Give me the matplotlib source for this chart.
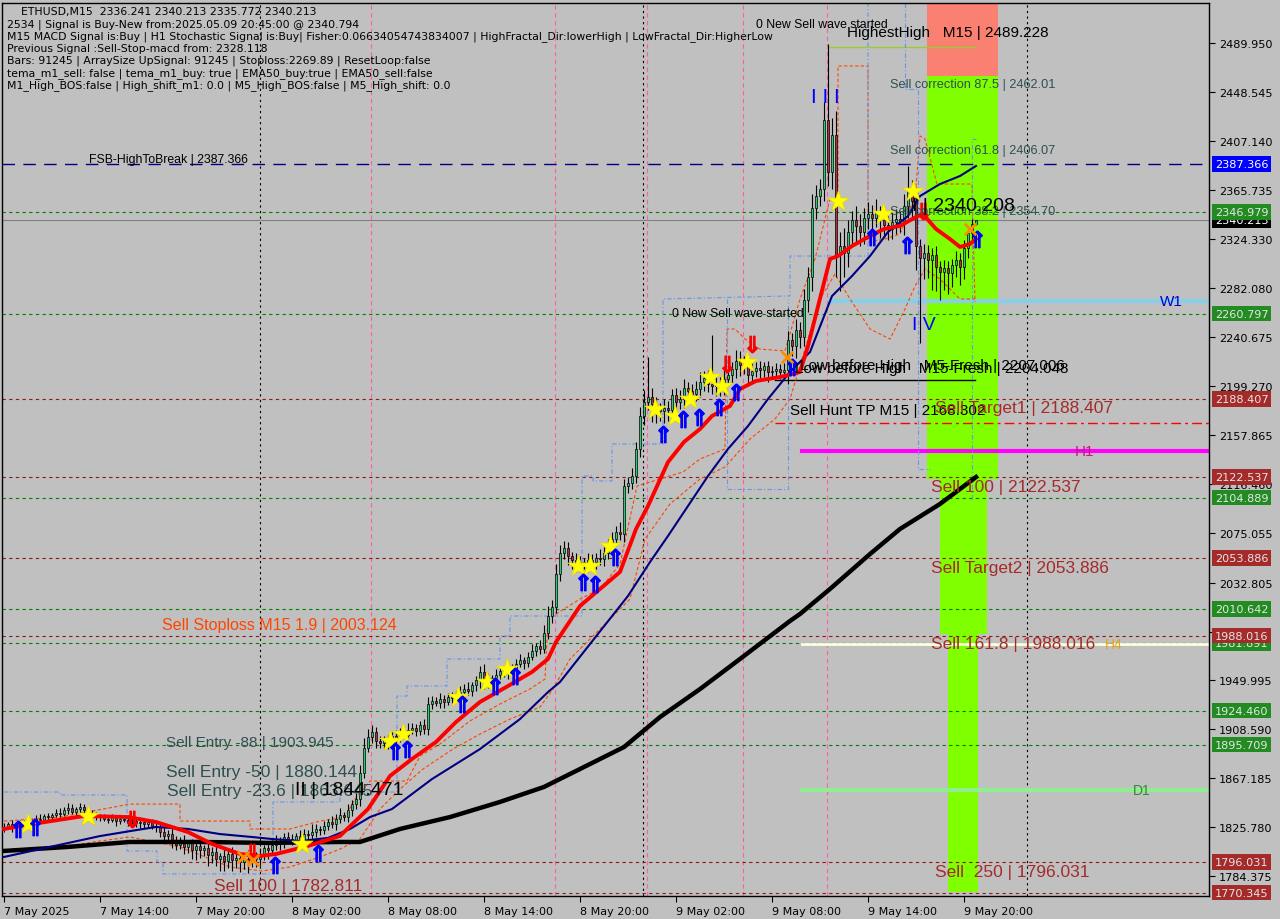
import matplotlib
matplotlib.use('Agg')
import matplotlib.pyplot as plt
import matplotlib.transforms as mtransforms
from matplotlib.patches import Rectangle

# ---------------- data ----------------
first_open = 1825.0
closes = [
    1826, 1828, 1825, 1827, 1829, 1830, 1828, 1831,
    1833, 1832, 1835, 1834, 1836, 1838, 1837, 1840,
    1842, 1839, 1841, 1843, 1840, 1838, 1836, 1835,
    1834, 1833, 1832, 1834, 1831, 1833, 1832, 1830,
    1831, 1829, 1830, 1828, 1830, 1827, 1826, 1822,
    1818, 1820, 1815, 1811, 1813, 1809, 1812, 1806,
    1810, 1806, 1808, 1802, 1805, 1799, 1801, 1797,
    1803, 1798, 1800, 1796, 1799, 1797, 1801, 1799,
    1803, 1808, 1806, 1811, 1814, 1812, 1817, 1816,
    1815, 1818, 1816, 1820, 1819, 1822, 1824, 1823,
    1827, 1830, 1828, 1833, 1836, 1834, 1840, 1845,
    1850, 1872, 1893, 1902, 1906, 1899, 1897, 1900,
    1898, 1903, 1901, 1906, 1904, 1908, 1910, 1907,
    1912, 1909, 1930, 1933, 1931, 1934, 1932, 1936,
    1935, 1938, 1940, 1943, 1941, 1946, 1950, 1957,
    1948, 1952, 1950, 1955, 1958, 1956, 1960, 1959,
    1964, 1967, 1965, 1970, 1975, 1979, 1977, 1990,
    2005, 2012, 2040, 2058, 2062, 2055, 2052, 2048,
    2050, 2049, 2052, 2050, 2054, 2053, 2058, 2064,
    2070, 2076, 2074, 2115, 2117, 2123, 2146, 2174,
    2186, 2190, 2184, 2180, 2178, 2181, 2179, 2192,
    2186, 2188, 2198, 2195, 2193, 2197, 2203, 2206,
    2201, 2199, 2202, 2198, 2205, 2209, 2214, 2221,
    2217, 2219, 2209, 2212, 2215, 2213, 2216, 2211,
    2212, 2214, 2211, 2213, 2238, 2233, 2247, 2241,
    2272, 2292, 2350, 2360, 2366, 2425, 2381, 2412,
    2310, 2318, 2312, 2330, 2340, 2335, 2330, 2342,
    2345, 2342, 2346, 2340, 2336, 2332, 2338, 2341,
    2339, 2352, 2366, 2356, 2318, 2308, 2312, 2306,
    2310, 2300, 2296, 2299, 2295, 2302, 2306, 2300,
    2316, 2329, 2336.241, 2340.213,
]
wick_up = [
    3, 2, 4, 2, 3, 2, 3, 2,  3, 4, 2, 3, 2, 3, 4, 3,  4, 3, 2, 3, 2, 3, 2, 3,
    2, 3, 2, 3, 2, 2, 3, 4,  3, 2, 4, 3, 2, 3, 2, 3,  4, 3, 5, 3, 4, 6, 3, 4,
    5, 4, 3, 6, 4, 5, 3, 6,  4, 6, 3, 5, 4, 7, 3, 4,  5, 3, 6, 4, 5, 3, 4, 5,
    4, 3, 5, 4, 3, 6, 4, 3,  4, 3, 5, 4, 6, 3, 5, 4,  5, 6, 8, 7, 6, 5, 4, 3,
    4, 3, 5, 4, 3, 6, 4, 3,  4, 5, 6, 4, 3, 5, 4, 3,  4, 3, 5, 4, 6, 3, 4, 5,
    7, 4, 3, 5, 4, 3, 5, 4,  4, 5, 3, 4, 6, 3, 5, 7,  8, 6, 9, 7, 6, 5, 4, 6,
    5, 4, 6, 5, 4, 7, 5, 6,  6, 5, 8, 6, 5, 7, 6, 8,  10, 34, 8, 6, 5, 7, 6, 5,
    6, 8, 7, 5, 6, 7, 8, 6,  7, 42, 6, 5, 8, 7, 6, 9,  8, 6, 5, 7, 5, 6, 4, 5,
    4, 5, 4, 6, 8, 6, 9, 7,  10, 8, 12, 10, 9, 15, 64, 14,  20, 12, 15, 10, 8, 12, 10, 8,
    10, 8, 12, 6, 8, 7, 9, 8,  7, 10, 20, 8, 12, 6, 8, 7,  6, 8, 5, 7, 6, 5, 8, 6,
    7, 6, 5, 0,
]
wick_dn = [
    3, 2, 3, 4, 2, 3, 2, 3,  2, 3, 2, 4, 3, 2, 3, 2,  3, 2, 4, 3, 2, 3, 4, 3,
    3, 2, 3, 2, 4, 3, 2, 3,  2, 3, 4, 3, 2, 3, 4, 5,  6, 4, 7, 5, 4, 6, 5, 7,
    8, 6, 5, 9, 7, 6, 10, 8,  6, 9, 7, 8, 6, 10, 5, 7,  6, 5, 7, 4, 5, 6, 4, 3,
    4, 3, 5, 3, 4, 3, 5, 4,  3, 4, 3, 5, 4, 3, 4, 5,  4, 6, 5, 4, 5, 6, 4, 5,
    6, 4, 5, 3, 4, 5, 3, 4,  3, 4, 5, 4, 3, 4, 5, 3,  4, 3, 5, 4, 3, 4, 5, 6,
    5, 4, 3, 5, 4, 3, 5, 4,  4, 3, 5, 4, 3, 4, 5, 4,  5, 6, 5, 6, 5, 7, 8, 6,
    6, 5, 7, 4, 6, 5, 6, 5,  5, 6, 5, 7, 6, 5, 6, 7,  8, 7, 15, 12, 8, 10, 9, 7,
    8, 6, 7, 9, 8, 6, 7, 8,  7, 6, 8, 7, 6, 5, 7, 8,  9, 7, 8, 6, 5, 7, 6, 8,
    5, 4, 6, 5, 12, 8, 10, 9,  8, 10, 12, 9, 8, 10, 12, 15,  18, 30, 20, 12, 10, 15, 12, 10,
    10, 12, 8, 15, 10, 9, 8, 10,  9, 12, 10, 14, 20, 72, 18, 15,  25, 20, 24, 15, 18, 12, 10, 15,
    10, 8, 6, 0.5,
]

red_x = [0, 7, 20, 31, 38, 46, 52, 59, 64, 68, 76, 84, 91, 96.5, 102, 108, 113, 119, 126,
         132, 136, 138, 144, 154, 158, 161, 166, 170, 174, 177, 181.5, 184, 188, 194, 199,
         201, 206.5, 208.5, 212, 216.5, 220, 224, 228, 229.75, 233, 236.5, 239, 241.5, 243]
red_y = [1824.2, 1828.4, 1835.2, 1834.3, 1830.1, 1821.6, 1811.5, 1803.0, 1801.3, 1803.0,
         1809.8, 1818.3, 1841.1, 1869.1, 1883.5, 1897.9, 1914.8, 1931.8, 1945.3, 1957.2,
         1968.2, 1982.6, 2013.1, 2041.9, 2078.3, 2097.8, 2135.0, 2152.0, 2163.0, 2174.0,
         2182.5, 2196.9, 2203.7, 2207.0, 2211.3, 2233.3, 2307.0, 2309.5, 2318.0, 2326.5,
         2332.4, 2335.0, 2342.6, 2345.0, 2332.4, 2323.9, 2317.2, 2319.7, 2323.9]

blue_x = [0, 11.5, 24, 31.5, 38, 46, 54, 62, 67, 74, 81, 86.5, 91.5, 97, 107, 119, 129,
          136, 139, 156, 161.5, 166, 171, 176, 181, 186, 191, 196.5, 201.5, 207, 212,
          216.5, 221, 226, 229, 234, 239, 243]
blue_y = [1800.5, 1809.0, 1818.2, 1822.4, 1825.9, 1824.2, 1819.9, 1817.4, 1815.7, 1814.0,
          1816.6, 1824.2, 1834.3, 1841.1, 1866.5, 1891.9, 1917.3, 1940.2, 1948.7, 2021.6,
          2050.3, 2072.4, 2097.8, 2123.2, 2146.1, 2165.5, 2188.4, 2211.3, 2228.2, 2275.6,
          2292.6, 2309.5, 2329.9, 2343.4, 2360.3, 2370.5, 2377.3, 2385.8]

black_x = [0, 16, 31.5, 49, 66, 84, 89, 99, 111.5, 124, 135, 144, 155, 164, 174, 184,
           196.5, 199, 206.5, 216.5, 224, 234, 243]
black_y = [1805.6, 1809.0, 1813.2, 1813.2, 1812.4, 1813.2, 1813.2, 1824.2, 1834.3, 1847.1,
           1859.8, 1875.0, 1893.6, 1919.0, 1942.7, 1968.2, 2000.4, 2006.3, 2027.5, 2057.1,
           2078.3, 2099.5, 2122.3]

# orange envelope (upper / lower) and light blue trailing steps
orange_up_x = [0, 14, 31.5, 44, 44, 61.5, 61.5, 71.5, 79, 85.25, 87.75, 91.5, 100.75, 104,
               109, 116.5, 124, 131.5, 135.25, 136, 144, 149, 154, 158.25, 169.75, 174,
               180.25, 180.75, 182.75, 185.25, 189, 195.25, 199, 202.75, 206.5, 208.5,
               208.5, 216, 216, 220.25, 224, 227.75, 229, 230.25, 233.25, 242, 242.75]
orange_up_y = [1830.9, 1834.3, 1845.3, 1845.3, 1830.9, 1830.9, 1824.2, 1824.2, 1830.9,
               1834.3, 1849.6, 1864.8, 1864.8, 1886.0, 1896.2, 1915.7, 1930.1, 1942.8,
               1951.2, 2002.0, 2019.0, 2027.5, 2048.6, 2114.7, 2126.6, 2137.6, 2146.1,
               2247.7, 2247.7, 2239.2, 2230.7, 2229.1, 2273.1, 2307.0, 2357.8, 2357.8,
               2470.5, 2470.5, 2321.4, 2323.9, 2328.2, 2357.8, 2411.2, 2408.6, 2370.5,
               2370.5, 2270.6]
orange_dn_x = [0, 14, 24, 31.5, 44, 56.5, 64.5, 71.5, 79, 84, 89, 94, 99, 104.75, 112.25,
               119, 126.5, 134, 137.25, 141.5, 146.5, 151.5, 156.5, 160.25, 166.5, 174,
               180.25, 186.5, 192.75, 196.5, 200.25, 204, 207.75, 211.5, 216.5, 221.5,
               225.25, 227.75, 230.25, 234, 239, 242.75]
orange_dn_y = [1805.6, 1809.0, 1814.0, 1817.4, 1809.0, 1792.0, 1788.6, 1792.0, 1800.5,
               1807.2, 1815.7, 1841.1, 1858.0, 1875.0, 1891.9, 1904.6, 1917.3, 1927.5,
               1942.7, 1968.2, 1985.1, 2002.0, 2019.0, 2069.8, 2099.5, 2120.6, 2130.8,
               2154.5, 2171.5, 2188.4, 2230.7, 2273.1, 2294.3, 2273.1, 2247.7, 2239.2,
               2264.6, 2284.1, 2298.5, 2290.0, 2273.1, 2273.1]

trail1_x = [0, 14, 14, 30.75, 30.75, 38.25, 38.25, 39.75, 39.75, 67.25, 67.25, 84, 84,
            98.25, 98.25, 100.75, 100.75, 110.75, 110.75, 124, 124, 126.5, 126.5, 144.5,
            144.5, 147.25, 147.25, 152, 152, 164.75, 164.75, 196.5, 196.5, 216, 216]
trail1_y = [1855.5, 1855.5, 1853.0, 1853.0, 1805.6, 1805.6, 1796.3, 1796.3, 1786.1, 1786.1,
            1847.1, 1847.1, 1855.5, 1855.5, 1936.8, 1936.8, 1945.3, 1945.3, 1968.2, 1968.2,
            1987.6, 1987.6, 2004.6, 2004.6, 2123.2, 2123.2, 2119.0, 2119.0, 2150.3, 2150.3,
            2273.1, 2275.7, 2309.5, 2309.5, 2523.8]
trail2_x = [180.75, 180.75, 196, 196]
trail2_y = [2273.1, 2112.2, 2112.2, 2273.1]
trail3_x = [225.25, 225.25, 228.5, 228.5, 231.5]
trail3_y = [2523.8, 2451.0, 2451.0, 2129.1, 2129.1]
trail4_x = [242, 242, 243]
trail4_y = [2103.7, 2408.6, 2408.6]

# signal markers (bar, price)
star_x = [6, 21, 74.5, 96.5, 99.75, 113.5, 120.75, 125.75, 143.5, 146.5, 151.5, 162.75,
          167.75, 171.5, 176.5, 179.5, 185.75, 208.5, 219.75, 227.25]
star_y = [1828, 1835, 1811.5, 1898.7, 1904.6, 1936.0, 1948.7, 1959.7, 2046.9, 2046.9,
          2063.9, 2179.9, 2174.0, 2188.4, 2207.0, 2199.4, 2219.7, 2356.1, 2345.1, 2364.6]
up_x = [3.5, 7.75, 67.75, 78.5, 97.75, 100.75, 114.5, 122.75, 127.75, 144.75, 147.75,
        152.75, 164.75, 169.75, 173.75, 178.75, 183, 197, 217, 225.75, 243.25]
up_y = [1824.2, 1825.9, 1793.7, 1803.9, 1890.2, 1891.9, 1930.0, 1945.3, 1953.8, 2033.4,
        2031.7, 2054.6, 2158.8, 2171.5, 2173.2, 2181.6, 2194.3, 2215.5, 2325.6, 2318.9, 2323.9]
down_x = [32, 62, 180.75, 187, 229.75]
down_y = [1832.6, 1804.7, 2218.0, 2235.0, 2347.7]
cross_x = [59.75, 62.25, 195.75, 241.5]
cross_y = [1800.5, 1797.9, 2224.0, 2332.4]

# price levels with right-hand boxes
green_levels = [2346.979, 2260.797, 2104.889, 2010.642, 1981.891, 1924.460, 1895.709]
red_levels = [2188.407, 2122.537, 2053.886, 1988.016, 1796.031, 1770.345]
fsb_level = 2387.366
last_price = 2340.213

price_ticks = [2489.950, 2448.545, 2407.140, 2365.735, 2324.330, 2282.080, 2240.675,
               2199.270, 2157.865, 2116.460, 2075.055, 2032.805, 1991.400, 1949.995,
               1908.590, 1867.185, 1825.780, 1784.375]
time_ticks = [0, 24, 48, 72, 96, 120, 144, 168, 192, 216, 240]
time_labels = ['7 May 2025', '7 May 14:00', '7 May 20:00', '8 May 02:00', '8 May 08:00',
               '8 May 14:00', '8 May 20:00', '9 May 02:00', '9 May 08:00', '9 May 14:00',
               '9 May 20:00']
black_vlines = [64, 159.75, 255.75]
pink_vlines = [91.75, 137.75, 160.75, 184.75, 205.75]

# target zones: (left bar, right bar, bottom price, top price)
zone_sell_top = (230.75, 248.5, 2462.0, 2523.8)
zone_green = [(230.75, 248.5, 2120.6, 2462.0),
              (234.0, 245.75, 1989.1, 2120.6),
              (236.0, 243.5, 1770.8, 1989.1)]

# timeframe high/low lines: (start bar, price)
h1_line = (199.5, 2144.4)
w1_line = (206.5, 2271.4)
h4_line = (199.5, 1980.9)
d1_line = (199.5, 1857.2)

header = [
    '    ETHUSD,M15  2336.241 2340.213 2335.772 2340.213',
    '2534 | Signal is Buy-New from:2025.05.09 20:45:00 @ 2340.794',
    'M15 MACD Signal is:Buy | H1 Stochastic Signal is:Buy| Fisher:0.06634054743834007 | '
    'HighFractal_Dir:lowerHigh | LowFractal_Dir:HigherLow',
    'Previous Signal :Sell-Stop-macd from: 2328.118',
    'Bars: 91245 | ArraySize UpSignal: 91245 | Stoploss:2269.89 | ResetLoop:false',
    'tema_m1_sell: false | tema_m1_buy: true | EMA50_buy:true | EMA50_sell:false',
    'M1_High_BOS:false | High_shift_m1: 0.0 | M5_High_BOS:false | M5_High_shift: 0.0',
]

# ---------------- figure ----------------
BG = '#C0C0C0'
NARROW = ['Liberation Sans Narrow', 'Liberation Sans', 'DejaVu Sans']
ARIAL = ['Liberation Sans', 'DejaVu Sans']

fig = plt.figure(figsize=(12.8, 9.2), dpi=100, facecolor=BG)
ax = fig.add_axes([2 / 1280, 1 - 897 / 920, 1207 / 1280, 893 / 920])
ax.set_facecolor(BG)
ax.set_xlim(-0.5, 301.25)
ax.set_ylim(1767.43, 2523.83)
for sp in ax.spines.values():
    sp.set_color('black')
    sp.set_linewidth(1)

# zones
l, r, b, t = zone_sell_top
ax.add_patch(Rectangle((l, b), r - l, t - b, facecolor='#FA8072', edgecolor='none', zorder=0.5))
for l, r, b, t in zone_green:
    ax.add_patch(Rectangle((l, b), r - l, t - b, facecolor='#7FFF00', edgecolor='none', zorder=0.5))

# vertical separators
for v in black_vlines:
    ax.axvline(v, color='black', lw=0.8, ls=(0, (2, 3)), zorder=1)
for v in pink_vlines:
    ax.axvline(v, color='#FF5FA0', lw=0.8, ls=(0, (4, 3)), zorder=1)

# horizontal levels
for p in green_levels:
    ax.axhline(p, color='#008000', lw=0.8, ls=(0, (3, 3)), zorder=1)
for p in red_levels:
    ax.axhline(p, color='#8B1A1A', lw=0.8, ls=(0, (3, 3)), zorder=1)
ax.axhline(fsb_level, color='#000080', lw=1.0, ls=(0, (9, 6)), zorder=1)
ax.axhline(last_price, color='#808080', lw=0.8, zorder=1)
ax.plot([192.75, 301.25], [2168.302, 2168.302], color='#FF0000', lw=1, ls=(0, (7, 3, 2, 3)), zorder=1)
ax.plot([192.75, 242.75], [2204.5, 2204.5], color='black', lw=1, zorder=1)
ax.plot([205.75, 242.75], [2486.6, 2486.6], color='#9ACD32', lw=1, zorder=1)

ax.plot([h1_line[0], 301.25], [h1_line[1]] * 2, color='#FF00FF', lw=3, zorder=1.5)
ax.plot([w1_line[0], 301.25], [w1_line[1]] * 2, color='#87CEEB', lw=3, zorder=1.5)
ax.plot([h4_line[0], 301.25], [h4_line[1]] * 2, color='#FFFFE0', lw=2, zorder=1.5)
ax.plot([d1_line[0], 301.25], [d1_line[1]] * 2, color='#90EE90', lw=3, zorder=1.5)

# envelopes / trails
ax.plot(orange_up_x, orange_up_y, color='#FF4500', lw=0.8, ls=(0, (3, 2)), zorder=2)
ax.plot(orange_dn_x, orange_dn_y, color='#FF4500', lw=0.8, ls=(0, (3, 2)), zorder=2)
for tx, ty in [(trail1_x, trail1_y), (trail2_x, trail2_y), (trail3_x, trail3_y), (trail4_x, trail4_y)]:
    ax.plot(tx, ty, color='#6495ED', lw=0.8, ls=(0, (4, 2, 1, 2)), zorder=2)

# candles
for i, c in enumerate(closes):
    o = closes[i - 1] if i else first_open
    lo_body, hi_body = min(o, c), max(o, c)
    ax.vlines(i, lo_body - wick_dn[i], hi_body + wick_up[i], color='black', lw=0.8, zorder=3)
    col = '#2ECC71' if c >= o else '#B03040'
    ax.bar(i, max(hi_body - lo_body, 0.6), bottom=lo_body, width=0.7, color=col,
           edgecolor='black', linewidth=0.5, zorder=3.1)

# moving averages
ax.plot(black_x, black_y, color='black', lw=3.2, zorder=4)
ax.plot(blue_x, blue_y, color='#000080', lw=1.5, zorder=4)
ax.plot(red_x, red_y, color='#FF0000', lw=2.8, zorder=4.1)

# signal markers
ax.scatter(star_x, star_y, marker='*', s=260, color='#FFFF00', edgecolors='#E8D800',
           linewidths=0.5, zorder=5)
ax.scatter(up_x, up_y, marker=r'$\Uparrow$', s=140, color='#0000FF', zorder=5)
ax.scatter(down_x, down_y, marker=r'$\Downarrow$', s=140, color='#FF0000', zorder=5)
ax.scatter(cross_x, cross_y, marker='x', s=70, color='#FF8C00', linewidths=2, zorder=5)

# object labels
def label(x, y, s, size, color='black', family=NARROW):
    ax.text(x, y, s, fontsize=size, color=color, family=family, va='center', ha='left', zorder=6)

label(21.25, 2391.5, 'FSB-HighToBreak | 2387.366', 8.8, family=ARIAL)
label(188, 2506.0, '0 New Sell wave started', 8.8, family=ARIAL)
label(210.75, 2499.3, 'HighestHigh   M15 | 2489.228', 11, family=ARIAL)
label(221.5, 2455.2, 'Sell correction 87.5 | 2462.01', 9.2, '#2F4F4F')
label(221.5, 2399.3, 'Sell correction 61.8 | 2406.07', 9.2, '#2F4F4F')
label(221.5, 2347.6, 'Sell correction 38.2 | 2354.70', 9.2, '#2F4F4F')
label(201.75, 2445.0, 'I I I', 15, '#0000FF', ARIAL)
label(227, 2351.9, 'I | 2340.208', 14, family=ARIAL)
label(227, 2251.1, 'I V', 14, '#0000FF', ARIAL)
label(167, 2261.2, '0 New Sell wave started', 8.8, family=ARIAL)
label(199, 2217.2, 'Low before High   M5-Fresh | 2207.006', 11, family=ARIAL)
label(197.75, 2214.7, 'Low before High   M15-Fresh | 2204.048', 11, family=ARIAL)
label(196.5, 2179.1, 'Sell Hunt TP M15 | 2168.302', 11, family=ARIAL)
label(232.75, 2180.8, 'Sell Target1 | 2188.407', 12.5, '#A52A2A')
label(231.75, 2114.7, 'Sell 100 | 2122.537', 12.5, '#A52A2A')
label(231.75, 2046.1, 'Sell Target2 | 2053.886', 12.5, '#A52A2A')
label(231.75, 1980.9, 'Sell 161.8 | 1988.016', 12.5, '#A52A2A')
label(232.75, 1788.6, 'Sell  250 | 1796.031', 12.5, '#A52A2A')
label(39.5, 1997.0, 'Sell Stoploss M15 1.9 | 2003.124', 11.5, '#FF4500')
label(40.5, 1897.9, 'Sell Entry -88 | 1903.945', 11, '#2F4F4F')
label(40.5, 1872.5, 'Sell Entry -50 | 1880.144', 12.5, '#2F4F4F')
label(40.75, 1857.2, 'Sell Entry -23.6 | 1863.645', 12.5, '#2F4F4F')
label(72.75, 1858.0, 'II | 1844.471', 14, family=ARIAL)
label(52.5, 1776.7, 'Sell 100 | 1782.811', 12.5, '#A52A2A')
label(267.75, h1_line[1], 'H1', 11, '#C71585', ARIAL)
label(289, w1_line[1], 'W1', 11, '#0000CD', ARIAL)
label(275.25, h4_line[1], 'H4', 10, '#DAA520', ARIAL)
label(282.25, d1_line[1], 'D1', 10, '#2E8B2E', ARIAL)

# header text
for k, line in enumerate(header):
    fig.text(7 / 1280, 1 - (12 + 12.3 * k) / 920, line, fontsize=7.85, color='black',
             family='DejaVu Sans', va='center', ha='left')

# axes ticks
ax.yaxis.tick_right()
ax.set_yticks(price_ticks)
ax.set_yticklabels(['%.3f' % p for p in price_ticks])
ax.tick_params(axis='y', direction='out', length=4, pad=3, labelsize=8.1, colors='black')
ax.set_xticks(time_ticks)
ax.set_xticklabels(time_labels)
ax.tick_params(axis='x', direction='out', length=4, pad=3, labelsize=8)
for lab in ax.get_xticklabels():
    lab.set_ha('left')

# right-side price boxes
trans = mtransforms.blended_transform_factory(ax.transAxes, ax.transData)
def box(p, face, txt='#E6E6E6'):
    ax.text(1 + 6 / 1207, p, '%.3f' % p, transform=trans, fontsize=8.1, color=txt,
            va='center', ha='left', clip_on=False, zorder=8,
            bbox=dict(boxstyle='square,pad=0.25', facecolor=face, edgecolor='none'))

box(last_price, 'black', 'white')
box(fsb_level, '#0000FF', 'white')
for p in green_levels:
    box(p, '#228B22')
for p in red_levels:
    box(p, '#A52A2A')

fig.savefig('out.png', dpi=100, facecolor=BG)
